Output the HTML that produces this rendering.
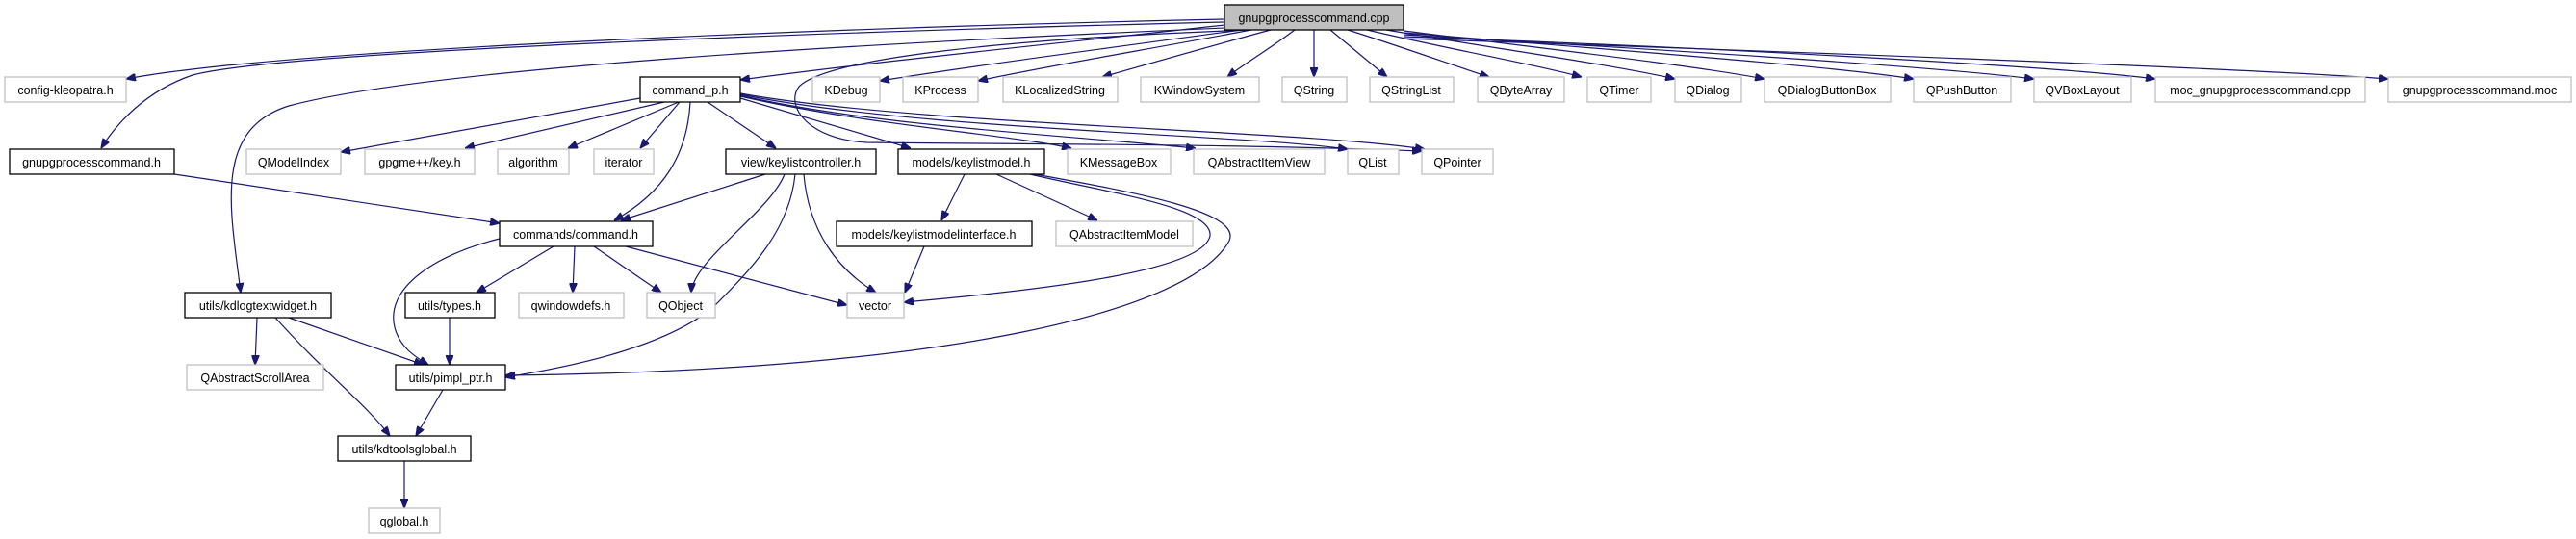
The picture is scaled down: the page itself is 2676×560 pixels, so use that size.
<!DOCTYPE html>
<html><head><meta charset="utf-8"><style>
html,body{margin:0;padding:0;background:#fff;}
svg{display:block;}
text{font-family:"Liberation Sans",sans-serif;font-size:12.5px;fill:#000;text-anchor:middle;}
.e{fill:#fff;stroke:#bfbfbf;stroke-width:1.3;}
.i{fill:#fff;stroke:#000;stroke-width:1.3;}
.r{fill:#bfbfbf;stroke:#000;stroke-width:1.3;}
path{fill:none;stroke:#191970;stroke-width:1.2;}
</style></head><body>
<svg width="2676" height="560" viewBox="0 0 2676 560" xmlns="http://www.w3.org/2000/svg">
<defs><marker id="a" viewBox="0 0 10 8" refX="10" refY="4" markerWidth="10" markerHeight="8" markerUnits="userSpaceOnUse" orient="auto"><path d="M0,0 L10,4 L0,8 z" style="fill:#191970;stroke:#191970"/></marker></defs>
<g marker-end="url(#a)">
<!-- from cpp -->
<path d="M1272,20 C900,28 300,50 131,82"/>
<path d="M1272,23 C900,32 300,52 200,78 C150,95 120,130 105,154"/>
<path d="M1272,26 C1100,45 900,65 769,83"/>
<path d="M1272,29 C900,45 450,70 300,110 C220,135 240,220 250,304"/>
<path d="M1290,31 C1150,50 1000,70 914,84"/>
<path d="M1300,31 C1200,50 1080,70 1016,84"/>
<path d="M1320,31 C1250,50 1180,70 1145,80"/>
<path d="M1345,31 C1320,50 1290,68 1275,80"/>
<path d="M1365,31 L1365,80"/>
<path d="M1382,31 L1441,80"/>
<path d="M1400,31 C1460,50 1510,68 1547,80"/>
<path d="M1420,31 C1500,50 1600,68 1643,80"/>
<path d="M1440,31 C1550,50 1680,68 1740,82"/>
<path d="M1458,32 C1600,50 1760,68 1833,82"/>
<path d="M1458,34 C1650,50 1900,68 1988,82"/>
<path d="M1458,36 C1700,50 2000,68 2113,82"/>
<path d="M1458,38 C1800,50 2150,70 2239,82"/>
<path d="M1458,40 C1900,55 2350,72 2481,82"/>
<path d="M1300,31 C1050,40 860,60 830,90 C815,110 840,145 900,148 C1100,150 1300,150 1477,157"/>
<!-- from command_p.h -->
<path d="M665,102 L354,158"/>
<path d="M690,106 L483,154"/>
<path d="M705,106 L590,154"/>
<path d="M706,106 L665,154"/>
<path d="M717,106 C714,160 690,200 638,229"/>
<path d="M735,106 L806,154"/>
<path d="M769,102 L946,154"/>
<path d="M769,100 C900,130 1050,140 1113,154"/>
<path d="M769,99 C900,130 1100,140 1242,154"/>
<path d="M769,98 C950,135 1300,140 1400,155"/>
<path d="M769,97 C950,130 1350,135 1480,155"/>
<!-- keylistcontroller -->
<path d="M795,181 L645,229"/>
<path d="M815,181 C800,220 720,270 718,304"/>
<path d="M826,181 C820,240 780,280 740,320 C690,360 600,380 525,392"/>
<path d="M835,181 C840,240 870,280 910,304"/>
<!-- keylistmodel -->
<path d="M1002,181 L978,229"/>
<path d="M1035,181 L1140,229"/>
<path d="M1070,181 C1150,200 1260,215 1257,245 C1250,280 1100,300 939,314"/>
<path d="M1075,181 C1180,200 1290,220 1277,250 C1240,320 1000,385 525,390"/>
<!-- interface -->
<path d="M960,256 L940,304"/>
<!-- command.h -->
<path d="M575,256 L495,304"/>
<path d="M597,256 L595,304"/>
<path d="M617,256 L687,304"/>
<path d="M650,256 L880,317"/>
<path d="M519,248 C450,265 400,300 410,340 C415,360 430,370 445,379"/>
<!-- gnupgprocesscommand.h -->
<path d="M181,181 L519,232"/>
<!-- kdlogtextwidget -->
<path d="M267,330 L265,379"/>
<path d="M300,330 L440,379"/>
<path d="M286,330 C340,390 380,420 405,453"/>
<!-- types/pimpl -->
<path d="M467,330 L467,379"/>
<path d="M460,405 L432,453"/>
<path d="M420,479 L420,528"/>
</g>
<!-- nodes -->
<rect class="r" x="1272" y="5" width="186" height="26"/><text x="1365" y="23">gnupgprocesscommand.cpp</text>
<rect class="e" x="5" y="80" width="126" height="26"/><text x="68" y="98">config-kleopatra.h</text>
<rect class="i" x="665" y="80" width="104" height="26"/><text x="717" y="98">command_p.h</text>
<rect class="e" x="844" y="80" width="70" height="26"/><text x="879" y="98">KDebug</text>
<rect class="e" x="938" y="80" width="78" height="26"/><text x="977" y="98">KProcess</text>
<rect class="e" x="1042" y="80" width="119" height="26"/><text x="1101" y="98">KLocalizedString</text>
<rect class="e" x="1185" y="80" width="123" height="26"/><text x="1246" y="98">KWindowSystem</text>
<rect class="e" x="1332" y="80" width="67" height="26"/><text x="1365" y="98">QString</text>
<rect class="e" x="1423" y="80" width="87" height="26"/><text x="1466" y="98">QStringList</text>
<rect class="e" x="1535" y="80" width="90" height="26"/><text x="1580" y="98">QByteArray</text>
<rect class="e" x="1649" y="80" width="66" height="26"/><text x="1682" y="98">QTimer</text>
<rect class="e" x="1740" y="80" width="69" height="26"/><text x="1774" y="98">QDialog</text>
<rect class="e" x="1833" y="80" width="131" height="26"/><text x="1898" y="98">QDialogButtonBox</text>
<rect class="e" x="1988" y="80" width="101" height="26"/><text x="2038" y="98">QPushButton</text>
<rect class="e" x="2113" y="80" width="101" height="26"/><text x="2163" y="98">QVBoxLayout</text>
<rect class="e" x="2239" y="80" width="218" height="26"/><text x="2348" y="98">moc_gnupgprocesscommand.cpp</text>
<rect class="e" x="2481" y="80" width="190" height="26"/><text x="2576" y="98">gnupgprocesscommand.moc</text>
<rect class="i" x="10" y="155" width="171" height="26"/><text x="95" y="173">gnupgprocesscommand.h</text>
<rect class="e" x="256" y="155" width="98" height="26"/><text x="305" y="173">QModelIndex</text>
<rect class="e" x="379" y="155" width="114" height="26"/><text x="436" y="173">gpgme++/key.h</text>
<rect class="e" x="517" y="155" width="74" height="26"/><text x="554" y="173">algorithm</text>
<rect class="e" x="617" y="155" width="62" height="26"/><text x="648" y="173">iterator</text>
<rect class="i" x="754" y="155" width="156" height="26"/><text x="832" y="173">view/keylistcontroller.h</text>
<rect class="i" x="933" y="155" width="152" height="26"/><text x="1009" y="173">models/keylistmodel.h</text>
<rect class="e" x="1109" y="155" width="107" height="26"/><text x="1162" y="173">KMessageBox</text>
<rect class="e" x="1240" y="155" width="136" height="26"/><text x="1308" y="173">QAbstractItemView</text>
<rect class="e" x="1400" y="155" width="53" height="26"/><text x="1426" y="173">QList</text>
<rect class="e" x="1477" y="155" width="74" height="26"/><text x="1514" y="173">QPointer</text>
<rect class="i" x="519" y="230" width="159" height="26"/><text x="598" y="248">commands/command.h</text>
<rect class="i" x="869" y="230" width="203" height="26"/><text x="970" y="248">models/keylistmodelinterface.h</text>
<rect class="e" x="1097" y="230" width="142" height="26"/><text x="1168" y="248">QAbstractItemModel</text>
<rect class="i" x="192" y="304" width="152" height="26"/><text x="268" y="322">utils/kdlogtextwidget.h</text>
<rect class="i" x="421" y="304" width="93" height="26"/><text x="467" y="322">utils/types.h</text>
<rect class="e" x="539" y="304" width="109" height="26"/><text x="593" y="322">qwindowdefs.h</text>
<rect class="e" x="672" y="304" width="71" height="26"/><text x="707" y="322">QObject</text>
<rect class="e" x="880" y="304" width="59" height="26"/><text x="909" y="322">vector</text>
<rect class="e" x="194" y="379" width="142" height="26"/><text x="265" y="397">QAbstractScrollArea</text>
<rect class="i" x="411" y="379" width="114" height="26"/><text x="468" y="397">utils/pimpl_ptr.h</text>
<rect class="i" x="351" y="453" width="138" height="26"/><text x="420" y="471">utils/kdtoolsglobal.h</text>
<rect class="e" x="383" y="528" width="74" height="26"/><text x="420" y="546">qglobal.h</text>
</svg>
</body></html>
